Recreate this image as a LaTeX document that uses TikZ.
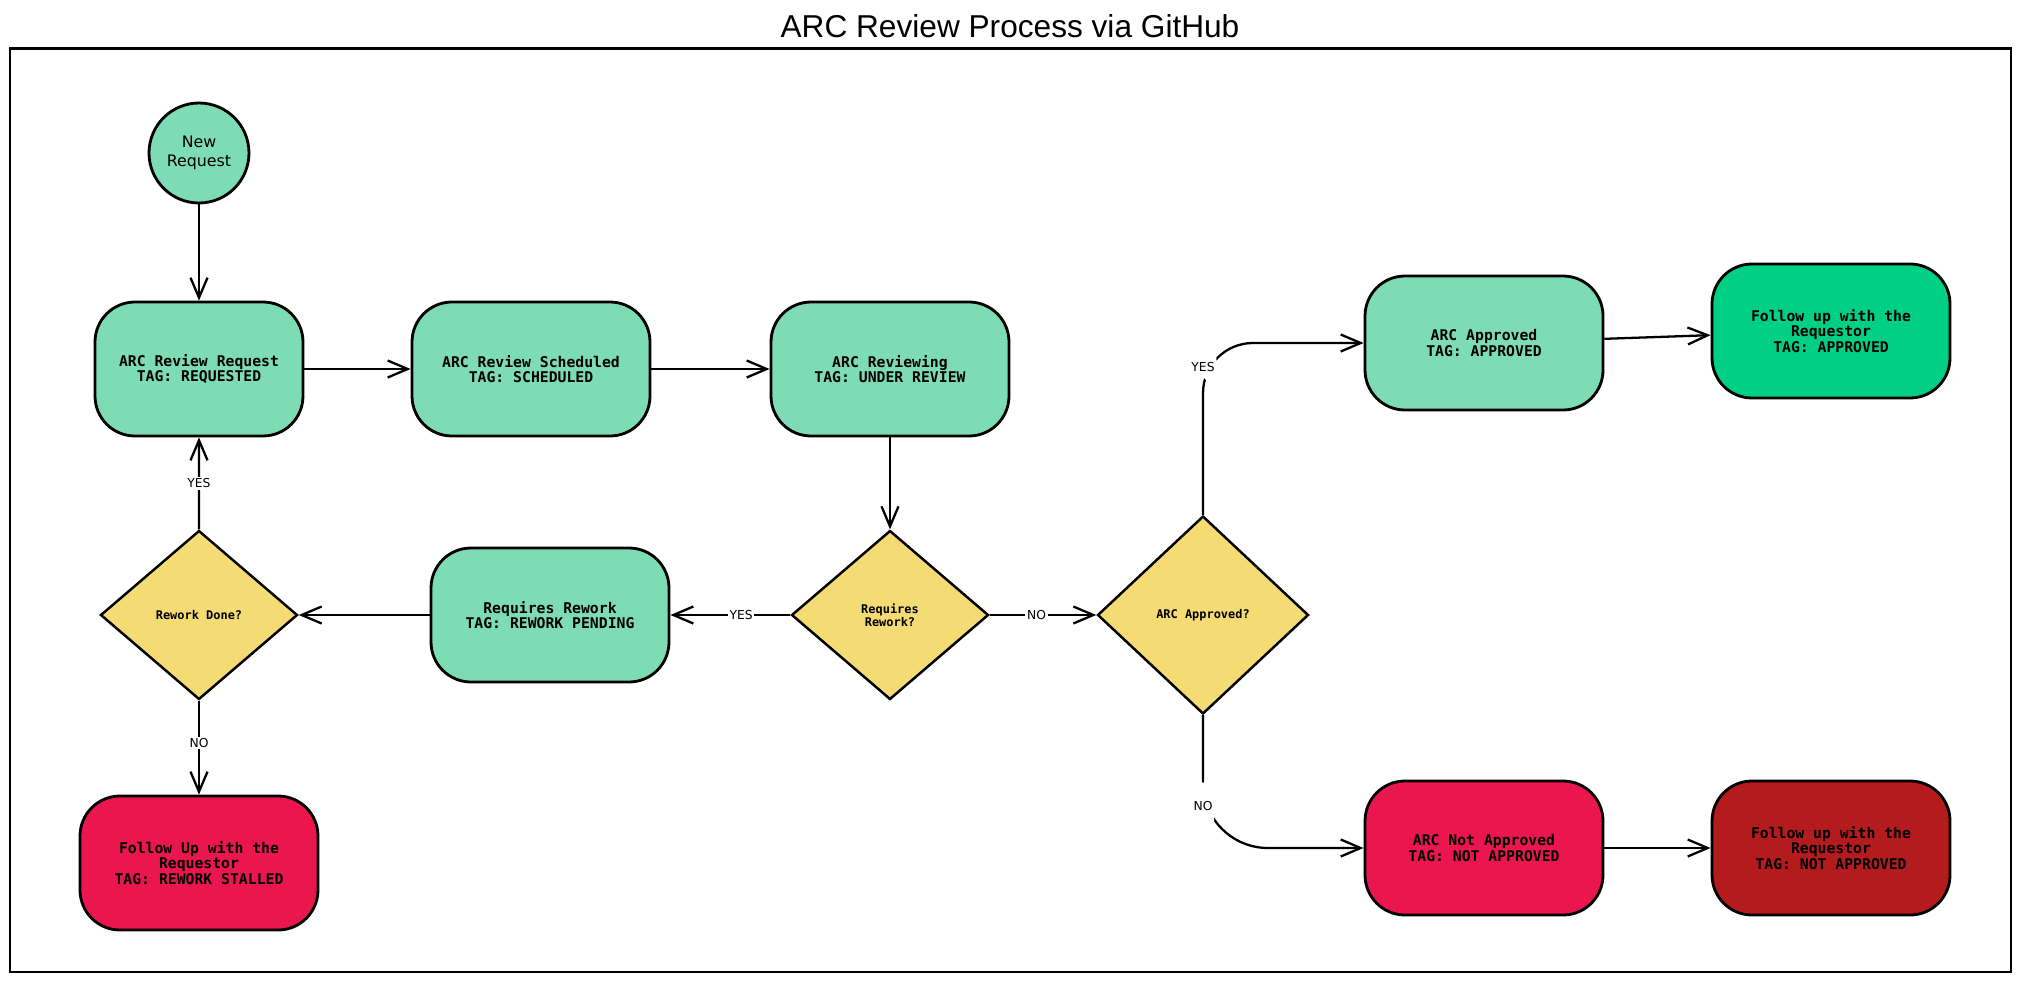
\documentclass[tikz,border=0pt]{standalone}
\usepackage{fontspec}
\usepackage{xcolor}
\usetikzlibrary{arrows.meta}
\usetikzlibrary{positioning}
\usetikzlibrary{shapes.geometric}

\newfontfamily\tagfont{DejaVu Sans Mono}
\newfontfamily\answerfont{DejaVu Sans}
\newfontfamily\titlefont{Liberation Sans}

\definecolor{stepgreen}{HTML}{7EDCB5}
\definecolor{okgreen}{HTML}{00CF86}
\definecolor{stopred}{HTML}{EC164F}
\definecolor{closedred}{HTML}{B41B1D}
\definecolor{askyellow}{HTML}{F5DB74}

\begin{document}
\begin{tikzpicture}[->,>={Straight Barb[length=4mm,width=3.4mm]},line width=1.3pt,node distance=3cm,
    main node/.style={rectangle,rounded corners=8mm,draw,line width=1.6pt,fill=stepgreen,align=center,minimum width=4.76cm,minimum height=2.68cm,font=\tagfont\bfseries\fontsize{8.4}{8.6}\selectfont},
    ask node/.style={diamond,draw,line width=1.4pt,fill=askyellow,align=center,inner sep=0pt,minimum width=3.94cm,minimum height=3.38cm,font=\tagfont\bfseries\fontsize{6.8}{7.6}\selectfont},
    answer/.style={font=\answerfont\fontsize{7}{8}\selectfont,fill=white,inner sep=1pt}]

    \useasboundingbox (0,0) rectangle (40.42,-19.66);
    \node[font=\titlefont\fontsize{18}{20}\selectfont] (title) at (20.2,-0.52) {ARC Review Process via GitHub};
    \draw[-,line width=1.2pt] (0.2,-0.97) rectangle (40.22,-19.44);

    \node[circle,draw,line width=1.6pt,fill=stepgreen,align=center,minimum size=2cm,inner sep=0pt,font=\answerfont\fontsize{9}{10.5}\selectfont] (new-request) at (3.98,-3.06) {New\\Request};
    \node[main node,on grid,below=4.32cm of new-request,minimum width=4.16cm] (review-request) {ARC Review Request\\TAG: REQUESTED};
    \node[main node,on grid,right=6.64cm of review-request] (review-scheduled) {ARC Review Scheduled\\TAG: SCHEDULED};
    \node[main node,on grid,right=7.18cm of review-scheduled] (reviewing) {ARC Reviewing\\TAG: UNDER REVIEW};
    \node[ask node,on grid,below=4.92cm of reviewing] (requires-rework-q) {Requires\\Rework?};
    \node[main node,on grid,left=6.8cm of requires-rework-q] (requires-rework) {Requires Rework\\TAG: REWORK PENDING};
    \node[ask node,on grid,left=7.02cm of requires-rework] (rework-done) {Rework Done?};
    \node[main node,on grid,below=4.96cm of rework-done,fill=stopred] (rework-stalled) {Follow Up with the\\Requestor\\TAG: REWORK STALLED};
    \node[ask node,on grid,right=6.26cm of requires-rework-q,minimum width=4.22cm,minimum height=3.96cm] (approved-q) {ARC Approved?};
    \node[main node,on grid,above right=5.44cm and 5.62cm of approved-q] (approved) {ARC Approved\\TAG: APPROVED};
    \node[main node,on grid,right=6.94cm of approved,yshift=2.4mm,fill=okgreen] (follow-approved) {Follow up with the\\Requestor\\TAG: APPROVED};
    \node[main node,on grid,below right=4.66cm and 5.62cm of approved-q,fill=stopred] (not-approved) {ARC Not Approved\\TAG: NOT APPROVED};
    \node[main node,on grid,right=6.94cm of not-approved,fill=closedred] (follow-not-approved) {Follow up with the\\Requestor\\TAG: NOT APPROVED};

    \path[every node/.style={answer}]
        (new-request) edge[] (review-request)
        (review-request) edge[] (review-scheduled)
        (review-scheduled) edge[] (reviewing)
        (reviewing) edge[] (requires-rework-q)
        (requires-rework-q) edge[] node[pos=0.41] {YES} (requires-rework)
        (requires-rework) edge[] (rework-done)
        (rework-done) edge[] node[] {YES} (review-request)
        (rework-done) edge[] node[pos=0.45] {NO} (rework-stalled)
        (requires-rework-q) edge[] node[pos=0.44] {NO} (approved-q)
        (approved) edge[] (follow-approved)
        (not-approved) edge[] (follow-not-approved);

    \path[draw,->,rounded corners=1cm]
    (approved-q.north)
    |- node[answer,pos=0.43] {YES}
    (approved.west);

    \path[draw,->,rounded corners=1.3cm]
    (approved-q.south)
    |- node[answer,pos=0.34] {NO}
    (not-approved.west);

\end{tikzpicture}
\end{document}
